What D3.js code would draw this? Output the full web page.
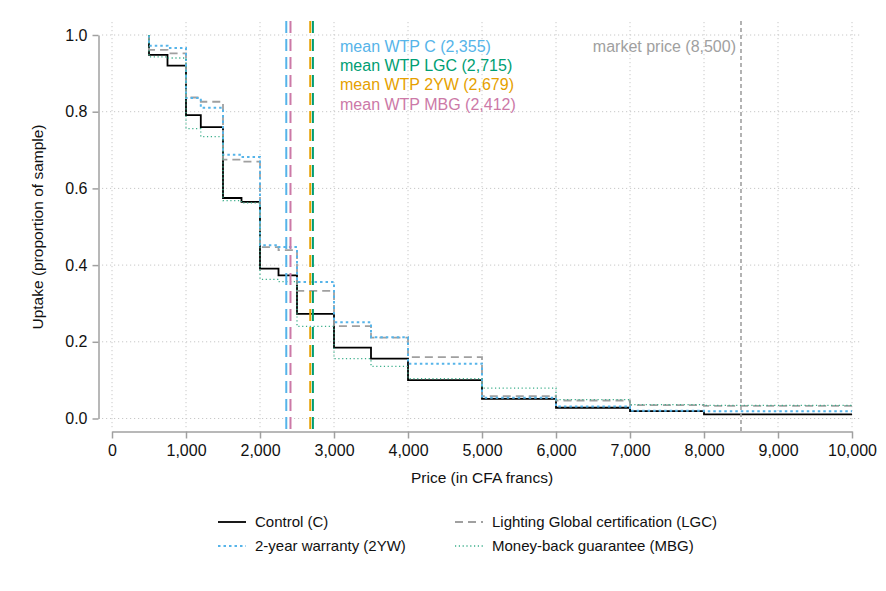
<!DOCTYPE html>
<html>
<head>
<meta charset="utf-8">
<script src="https://cdn.jsdelivr.net/npm/d3@7"></script>
<style>
  body { margin: 0; background: #fff; }
  svg { font-family: "Liberation Sans", Arial, sans-serif; }
</style>
</head>
<body>
<div id="chart"></div>
<script>
// price steps (CFA francs); each value holds from this price to the next
const prices = [500, 750, 1000, 1200, 1500, 1750, 2000, 2250, 2500, 3000, 3500, 4000, 5000, 6000, 7000, 8000];
const priceMax = 10000;

const control = [0.948, 0.920, 0.791, 0.760, 0.575, 0.565, 0.391, 0.373, 0.273, 0.185, 0.156, 0.100, 0.051, 0.028, 0.019, 0.011];
const warranty = [0.972, 0.966, 0.836, 0.810, 0.688, 0.682, 0.452, 0.447, 0.356, 0.251, 0.212, 0.143, 0.054, 0.031, 0.020, 0.019];
const lgc = [0.961, 0.952, 0.837, 0.826, 0.675, 0.670, 0.447, 0.439, 0.333, 0.241, 0.211, 0.160, 0.058, 0.047, 0.035, 0.033];
const mbg = [0.943, 0.940, 0.756, 0.735, 0.568, 0.562, 0.363, 0.357, 0.240, 0.156, 0.136, 0.104, 0.079, 0.049, 0.036, 0.034];

const meanLabels = ["mean WTP C", "mean WTP LGC", "mean WTP 2YW", "mean WTP MBG"];
const meanValues = [2355, 2715, 2679, 2412];
const meanColors = ["#56B4E9", "#009E73", "#E69F00", "#CC79A7"];
const marketPrice = 8500;

const xTicks = d3.range(0, 10001, 1000);
const yTicks = [0, 0.2, 0.4, 0.6, 0.8, 1.0];

const series = [
  { name: "Control (C)", values: control, color: "#000", width: 1.8, dash: null },
  { name: "Lighting Global certification (LGC)", values: lgc, color: "#a0a0a0", width: 1.8, dash: "8,5" },
  { name: "2-year warranty (2YW)", values: warranty, color: "#56B4E9", width: 2, dash: "2.5,3" },
  { name: "Money-back guarantee (MBG)", values: mbg, color: "#3aae8a", width: 1.3, dash: "1.2,2.6" }
];

const W = 886, H = 591;
const svg = d3.select("#chart").append("svg").attr("width", W).attr("height", H);

const x = d3.scaleLinear().domain([0, 10000]).range([112, 852]);
const y = d3.scaleLinear().domain([0, 1]).range([418.5, 35]);

const plot = { left: 102, right: 862, top: 22, bottom: 430 };

// grid
const grid = svg.append("g").attr("stroke", "#c8c8c8").attr("stroke-width", 1).attr("stroke-dasharray", "1.2,2.8");
grid.selectAll(".gx").data(xTicks).join("line")
  .attr("x1", d => x(d)).attr("x2", d => x(d))
  .attr("y1", plot.top).attr("y2", plot.bottom);
grid.selectAll(".gy").data(yTicks).join("line")
  .attr("x1", plot.left).attr("x2", plot.right)
  .attr("y1", d => y(d)).attr("y2", d => y(d));

// axes
const yAxis = svg.append("g").attr("transform", "translate(98.5,0)")
  .call(d3.axisLeft(y).tickValues(yTicks).tickFormat(d3.format(".1f")).tickSize(6).tickPadding(5).tickSizeOuter(0));
const xAxis = svg.append("g").attr("transform", "translate(0,431.5)")
  .call(d3.axisBottom(x).tickValues(xTicks).tickFormat(d3.format(",")).tickSize(7).tickPadding(6).tickSizeOuter(0));
[xAxis, yAxis].forEach(a => {
  a.select(".domain").attr("stroke", "#a0a0a0").attr("stroke-width", 1.5);
  a.selectAll(".tick line").attr("stroke", "#a0a0a0").attr("stroke-width", 1.5);
  a.selectAll(".tick text").attr("fill", "#111").style("font-size", "16px").style("font-family", "Liberation Sans, Arial, sans-serif");
});

svg.append("text").attr("x", 482).attr("y", 483).attr("text-anchor", "middle")
  .style("font-size", "15.5px").attr("fill", "#111").text("Price (in CFA francs)");
svg.append("text").attr("transform", "translate(43,227) rotate(-90)").attr("text-anchor", "middle")
  .style("font-size", "15.5px").attr("fill", "#111").text("Uptake (proportion of sample)");

// step lines
const line = d3.line().x(d => x(d[0])).y(d => y(d[1])).curve(d3.curveStepAfter);
series.forEach(s => {
  const pts = [[prices[0], 1]].concat(prices.map((p, i) => [p, s.values[i]]));
  pts.push([priceMax, s.values[s.values.length - 1]]);
  svg.append("path").datum(pts)
    .attr("d", line).attr("fill", "none")
    .attr("stroke", s.color).attr("stroke-width", s.width)
    .attr("stroke-dasharray", s.dash);
});

// mean WTP lines
meanValues.forEach((m, i) => {
  svg.append("line").attr("x1", x(m)).attr("x2", x(m)).attr("y1", 21).attr("y2", 430)
    .attr("stroke", meanColors[i]).attr("stroke-width", 2).attr("stroke-dasharray", "12,6");
});
svg.append("line").attr("x1", x(marketPrice)).attr("x2", x(marketPrice)).attr("y1", 21).attr("y2", 432)
  .attr("stroke", "#a0a0a0").attr("stroke-width", 1.6).attr("stroke-dasharray", "4,3");

meanLabels.forEach((t, i) => {
  svg.append("text").attr("x", 340).attr("y", 46 + i * 19.3).attr("dy", "0.35em")
    .style("font-size", "16px").attr("fill", meanColors[i])
    .text(`${t} (${d3.format(",")(meanValues[i])})`);
});
svg.append("text").attr("x", 736).attr("y", 46).attr("dy", "0.35em").attr("text-anchor", "end")
  .style("font-size", "16px").attr("fill", "#a0a0a0")
  .text(`market price (${d3.format(",")(marketPrice)})`);

// legend
const legendPos = [[218, 522], [455, 522], [218, 546], [455, 546]];
series.forEach((s, i) => {
  const [lx, ly] = legendPos[i];
  svg.append("line").attr("x1", lx).attr("x2", lx + 28).attr("y1", ly).attr("y2", ly)
    .attr("stroke", s.color).attr("stroke-width", s.width).attr("stroke-dasharray", s.dash);
  svg.append("text").attr("x", lx + 37).attr("y", ly).attr("dy", "0.35em")
    .style("font-size", "15px").attr("fill", "#111").text(s.name);
});
</script>
</body>
</html>
